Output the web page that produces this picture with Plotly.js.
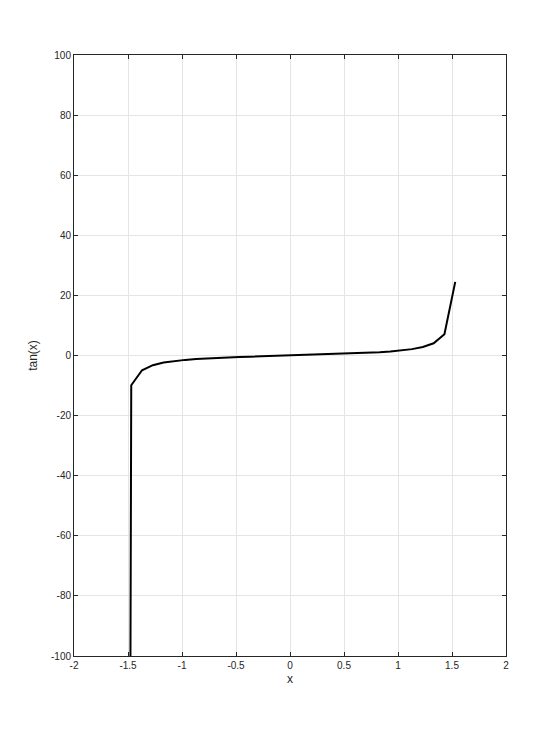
<!DOCTYPE html>
<html><head><meta charset="utf-8">
<script src="https://cdn.plot.ly/plotly-3.0.1.min.js"></script>
<style>html,body{margin:0;padding:0;background:#fff}#plot{width:560px;height:738px}</style>
</head><body><div id="plot"></div>
<script>
const xValues = [-1.57,-1.47,-1.37,-1.27,-1.17,-1.07,-0.97,-0.87,-0.77,-0.67,-0.57,-0.47,-0.37,-0.27,-0.17,-0.07,
  0.03,0.13,0.23,0.33,0.43,0.53,0.63,0.73,0.83,0.93,1.03,1.13,1.23,1.33,1.43,1.53];
const tanValues = [-1255.77,-9.887,-4.913,-3.224,-2.360,-1.827,-1.459,-1.185,-0.970,-0.792,-0.641,-0.508,-0.388,-0.277,-0.172,-0.070,
  0.030,0.131,0.234,0.343,0.459,0.586,0.729,0.895,1.093,1.341,1.665,2.120,2.820,4.072,7.096,24.498];
const xTicks = [-2,-1.5,-1,-0.5,0,0.5,1,1.5,2];
const yTicks = [-100,-80,-60,-40,-20,0,20,40,60,80,100];

const axisCommon = {
  showline:true, mirror:'ticks', linecolor:'#262626', linewidth:1,
  ticks:'inside', ticklen:4, tickcolor:'#262626', tickwidth:1,
  showgrid:true, gridcolor:'#e5e5e5', gridwidth:1, zeroline:false,
  tickfont:{family:'Liberation Sans, Arial, sans-serif', size:10, color:'#262626'}
};
Plotly.newPlot('plot', [{
  x:xValues, y:tanValues, type:'scatter', mode:'lines',
  line:{color:'#000000', width:2}, showlegend:false, cliponaxis:true
}], {
  width:560, height:738,
  margin:{l:74, r:54, t:55, b:82},
  paper_bgcolor:'#ffffff', plot_bgcolor:'#ffffff',
  xaxis:Object.assign({}, axisCommon, {range:[-2,2], tickvals:xTicks, ticktext:xTicks.map(String),
    title:{text:'x', font:{family:'Liberation Sans, Arial, sans-serif', size:12, color:'#262626'}, standoff:4}}),
  yaxis:Object.assign({}, axisCommon, {range:[-100,100], tickvals:yTicks, ticktext:yTicks.map(String),
    title:{text:'tan(x)', font:{family:'Liberation Sans, Arial, sans-serif', size:12, color:'#262626'}, standoff:10}})
}, {displayModeBar:false, staticPlot:true});
</script></body></html>
